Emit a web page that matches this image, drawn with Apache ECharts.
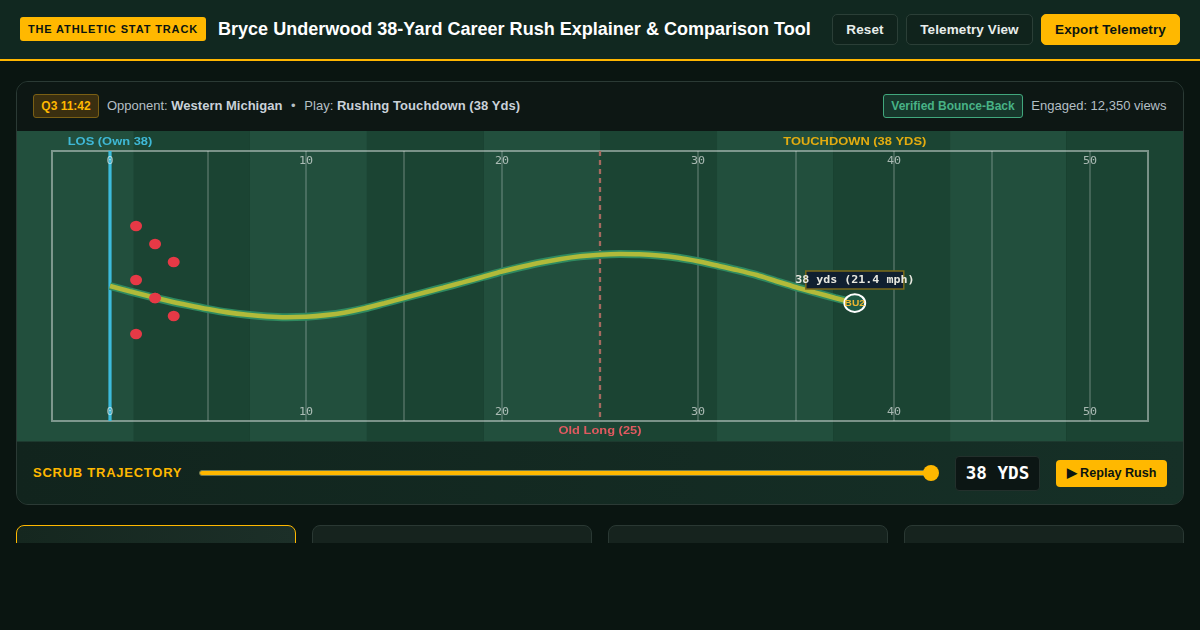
<!DOCTYPE html>
<html><head><meta charset="utf-8"><title>Bryce Underwood 38-Yard Rush</title>
<script src="https://cdn.jsdelivr.net/npm/echarts@6/dist/echarts.min.js"></script>
<style>
*{box-sizing:border-box}
html,body{margin:0;width:1200px;height:630px;overflow:hidden;background:#0a1511;font-family:"Liberation Sans",Arial,sans-serif;color:#fff}
.a{position:absolute;white-space:nowrap}
header{position:absolute;left:0;top:0;width:1200px;height:61px;background:#112820;border-bottom:2px solid #ffb600}
.badge{left:20px;top:17px;width:186px;height:24px;background:#ffb800;border-radius:3px;color:#0a1410;font-weight:700;font-size:11px;letter-spacing:.88px;line-height:24px;text-align:center}
h1{margin:0;left:218px;top:17px;font-size:18.05px;line-height:24px;font-weight:700;color:#fff;letter-spacing:0}
.btn{top:14px;height:31px;border:1px solid #2b3f37;border-radius:5px;background:#10231c;color:#e8eeeb;font-weight:700;font-size:13.5px;line-height:29px;text-align:center;letter-spacing:.1px}
.primary{background:#ffb800;border-color:#ffb800;color:#0a1410}
#panel{position:absolute;left:16px;top:81px;width:1168px;height:424px;border:1px solid #2b3a35;border-radius:12px;overflow:hidden;background:#12251e}
#top{position:absolute;left:0;top:0;width:1166px;height:49px;background:#0d1714}
.clock{left:16px;top:12px;width:66px;height:24px;border:1px solid #7a5f14;border-radius:3px;background:#3a2f10;color:#ffb800;font-size:12px;font-weight:700;line-height:22px;text-align:center}
.meta{left:90px;top:16px;font-size:13px;line-height:16px;color:#b4bfc4}
.meta b{color:#c9d1d9}
.meta b.r{letter-spacing:.07px}
.meta i{font-style:normal;margin:0 1.5px}
.ver{left:866px;top:12px;width:140px;height:24px;border:1px solid #41a77d;border-radius:3px;background:#16362b;color:#48b286;font-size:12px;font-weight:700;line-height:22px;text-align:center}
.views{right:16.5px;top:16px;font-size:13px;line-height:16px;color:#b4bfc4}
#clip{position:absolute;left:0;top:49px;width:1166px;height:310px;overflow:hidden}
#chart{position:absolute;left:0;top:0;width:1166px;height:310px}
#bar{position:absolute;left:0;top:359px;width:1166px;height:64px;border-top:1px solid #1d3a2f;background:linear-gradient(90deg,#11241d,#163027)}
.scrub{left:16px;top:23px;font-size:13px;line-height:16px;font-weight:700;letter-spacing:.75px;color:#ffb800}
.track{left:182px;top:28px;width:732px;height:6px;background:#ffb800;border-radius:3px;border:1px solid #6c7a55}
.knob{left:906px;top:23px;width:16px;height:16px;border-radius:50%;background:#ffb800}
.yds{left:938px;top:14px;width:85px;height:35px;border:1px solid #23302c;border-radius:4px;background:#0c1614;color:#fff;font-family:"DejaVu Sans Mono",monospace;font-weight:700;font-size:17.6px;line-height:33px;text-align:center;letter-spacing:0}
.replay{left:1039px;top:18px;width:111px;height:27px;border-radius:4px;background:#ffb800;color:#0a1410;font-weight:700;font-size:12.6px;line-height:27px;text-align:center}
#cards{position:absolute;left:0;top:0;width:1200px;height:543px;overflow:hidden;pointer-events:none}
.card{position:absolute;top:525px;width:280px;height:120px;border:1px solid #2a3833;border-radius:8px;background:#16231e}
.card.on{border-color:#ffb800;background:linear-gradient(90deg,#15271f,#1c2f28)}
</style></head><body>
<header>
<div class="a badge">THE ATHLETIC STAT TRACK</div>
<h1 class="a">Bryce Underwood 38-Yard Career Rush Explainer &amp; Comparison Tool</h1>
<div class="a btn" style="left:832px;width:66px">Reset</div>
<div class="a btn" style="left:906px;width:127px">Telemetry View</div>
<div class="a btn primary" style="left:1041px;width:139px">Export Telemetry</div>
</header>
<div id="panel">
 <div id="top">
  <div class="a clock">Q3 11:42</div>
  <div class="a meta">Opponent: <b>Western Michigan</b> &nbsp;<i>•</i>&nbsp; Play: <b class="r">Rushing Touchdown (38 Yds)</b></div>
  <div class="a ver">Verified Bounce-Back</div>
  <div class="a views">Engaged: 12,350 views</div>
 </div>
 <div id="clip"><div id="chart"></div></div>
 <div id="bar">
  <div class="a scrub">SCRUB TRAJECTORY</div>
  <div class="a track"></div><div class="a knob"></div>
  <div class="a yds">38 YDS</div>
  <div class="a replay">▶ Replay Rush</div>
 </div>
</div>
<div id="cards"><div class="card on" style="left:16px"></div><div class="card" style="left:312px"></div><div class="card" style="left:608px"></div><div class="card" style="left:904px"></div></div>
<script>
// Data, in yards downfield (x) and lateral units (y)
const bandEdges = [-4.745,1.22,7.14,13.11,19.08,25,30.97,36.89,42.86,48.78,54.745];
const yardLines = [5,10,15,20,25,30,35,40,45,50];
const tickLabels = [0,10,20,30,40,50];
const pathYards = [0,1,2,3,4,5,6,7,8,9,10,11,12,13,14,15,16,17,18,19,20,21,22,23,24,25,26,27,28,29,30,31,32,33,34,35,36,37,38];
const pathLateral = [0,-0.88,-1.72,-2.5,-3.2,-3.85,-4.4,-4.8,-5.08,-5.2,-5.12,-4.85,-4.4,-3.72,-2.87,-2,-1.13,-0.27,0.6,1.5,2.4,3.2,3.92,4.5,4.95,5.22,5.33,5.28,5.07,4.7,4.12,3.4,2.65,1.82,0.8,-0.2,-1.1,-2,-2.85];
const rushPath = pathYards.map((x,i)=>[x,pathLateral[i]]);
const defenders = [[1.33,10],[2.3,7],[3.25,4],[1.33,1],[2.3,-2],[3.25,-5],[1.33,-8]];
const carrier = [[38,-2.85]];
const losYard = 0, oldLong = 25;
const fieldX = [-2.96,52.96], fieldY = [-22.5,22.5];
const SX = 1.4575, SY = 1.24;

const chart = echarts.init(document.getElementById('chart'),null,{renderer:'canvas'});
const text = (api,x,y,str,font,fill,align) => {
  const p = api.coord([x,y]);
  return {type:'text',x:p[0],y:p[1],scaleX:SX,scaleY:SY,style:{text:str,font,fill,align:align||'center',verticalAlign:'middle'}};
};
const custom = (name,data,z,renderItem) => ({type:'custom',name,data,z,silent:true,clip:false,animation:false,renderItem,encode:{x:0,y:1}});

chart.setOption({
  animation:false,
  backgroundColor:'transparent',
  grid:{left:0,right:0,top:0,bottom:0},
  xAxis:{type:'value',min:-4.745,max:54.745,show:false},
  yAxis:{type:'value',min:-25.833,max:25.833,show:false},
  tooltip:{show:false},
  series:[
    custom('bands',bandEdges.slice(0,-1).map((e,i)=>[e,bandEdges[i+1],i]),1,(p,api)=>{
      const a=api.coord([api.value(0),fieldY[1]]),b=api.coord([api.value(1),fieldY[1]]);
      return {type:'rect',shape:{x:a[0],y:0,width:b[0]-a[0],height:310},style:{fill:api.value(2)%2?'#1b4433':'#224f3d'}};
    }),
    custom('yard lines',yardLines.filter(v=>v!==oldLong).map(v=>[v,0]),2,(p,api)=>{
      const x=api.coord([api.value(0),0])[0];
      return {type:'line',shape:{x1:x,y1:api.coord([0,fieldY[1]])[1],x2:x,y2:api.coord([0,fieldY[0]])[1]},style:{stroke:'rgba(255,255,255,.18)',lineWidth:2}};
    }),
    custom('field',[[fieldX[0],fieldY[0],fieldX[1],fieldY[1]]],3,(p,api)=>{
      const a=api.coord([api.value(0),api.value(3)]),b=api.coord([api.value(2),api.value(1)]);
      return {type:'rect',shape:{x:a[0],y:a[1],width:b[0]-a[0],height:b[1]-a[1]},style:{fill:'none',stroke:'rgba(255,255,255,.42)',lineWidth:2}};
    }),
    {type:'line',name:'old long',z:4,silent:true,symbol:'none',data:[[oldLong,fieldY[1]],[oldLong,fieldY[0]]],lineStyle:{color:'#a5695f',width:2.3,type:[5,4]}},
    {type:'line',name:'LOS',z:4,silent:true,symbol:'none',data:[[losYard,fieldY[1]],[losYard,fieldY[0]]],lineStyle:{color:'#3dbcdc',width:3.2}},
    custom('ticks',tickLabels.flatMap(v=>[[v,20.7],[v,-21.1]]),5,(p,api)=>text(api,api.value(0),api.value(1),String(api.value(0)),'8px "DejaVu Sans Mono"','rgba(255,255,255,.62)')),
    custom('labels',[0],5,(p,api)=>({type:'group',children:[
      text(api,0,23.95,'LOS (Own 38)','bold 8.85px "Liberation Sans"','#3fb8d6'),
      text(api,38,23.95,'TOUCHDOWN (38 YDS)','bold 8.85px "Liberation Sans"','#e3ac10'),
      text(api,25,-24.1,'Old Long (25)','bold 8.85px "Liberation Sans"','#e05a5f')
    ]})),
    {type:'scatter',name:'defenders',z:6,silent:true,symbol:'circle',symbolSize:[12,10.5],data:defenders,itemStyle:{color:'#e63946',opacity:1}},
    {type:'line',name:'path glow',z:7,silent:true,symbol:'none',smooth:0.3,data:rushPath,lineStyle:{color:'#2f8a60',width:8,cap:'butt'}},
    {type:'line',name:'path',z:8,silent:true,symbol:'none',smooth:0.3,data:rushPath,lineStyle:{color:'#b1ba3a',width:4.6,cap:'butt'}},
    {type:'scatter',name:'defenders over',z:9,silent:true,symbol:'circle',symbolSize:[12,10.5],data:defenders.slice(4,5),itemStyle:{color:'#e63946',opacity:1}},
    custom('callout',carrier,10,(p,api)=>{
      const c=api.coord([api.value(0),api.value(1)]);
      return {type:'group',children:[
        {type:'rect',shape:{x:c[0]-49,y:c[1]-32,width:98,height:18},style:{fill:'#101f30',stroke:'#7b6a1a',lineWidth:1.5}},
        {type:'text',x:c[0],y:c[1]-22.8,scaleX:SX,scaleY:SY,style:{text:'38 yds (21.4 mph)',font:'bold 8px "DejaVu Sans Mono"',fill:'#e8e8e0',align:'center',verticalAlign:'middle'}},
        {type:'ellipse',shape:{cx:c[0],cy:c[1],rx:10.4,ry:8.8},style:{fill:'#1f5a46',stroke:'#fff',lineWidth:2}},
        {type:'text',x:c[0],y:c[1],scaleX:SX,scaleY:SY,style:{text:'BU2',font:'bold 7px "Liberation Sans"',fill:'#eab532',align:'center',verticalAlign:'middle'}}
      ]};
    })
  ]
});
</script>
</body></html>
